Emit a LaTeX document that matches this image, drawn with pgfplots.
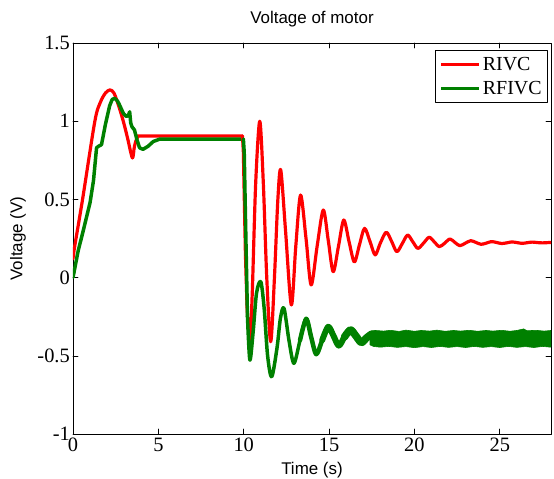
\documentclass[border=0pt]{standalone}
\usepackage{pgfplots}
\pgfplotsset{compat=1.18}
\usepackage{fontspec}
\setmainfont{Liberation Serif}
\newfontfamily\arial{Liberation Sans}
\definecolor{mgreen}{RGB}{0,128,0}
\definecolor{mred}{RGB}{255,0,0}
\begin{document}
\begin{tikzpicture}
\path[use as bounding box] (-73bp,-45bp) rectangle (481bp,434bp);
\begin{axis}[
  at={(0,0)}, anchor=south west,
  scale only axis, width=478bp, height=391bp,
  xmin=0, xmax=28, ymin=-1, ymax=1.5,
  xtick={0,5,10,15,20,25}, xticklabels={0,5,10,15,20,25},
  ytick={-1,-0.5,0,0.5,1,1.5}, yticklabels={-1,-0.5,0,0.5,1,1.5},
  tick align=inside, major tick length=5bp,
  axis line style={line width=0.8pt},
  tick style={black, line width=0.6pt},
  ticklabel style={font=\fontsize{20.5}{22}\selectfont},
  yticklabel style={inner sep=3bp},
  xticklabel style={inner sep=4bp},
  title={Voltage of motor},
  title style={font=\arial\fontsize{17}{20}\selectfont, at={(axis description cs:0.5,1.034)}, anchor=base},
  xlabel={Time (s)},
  xlabel style={font=\arial\fontsize{17}{20}\selectfont, at={(axis description cs:0.5,-0.103)}, anchor=base},
  ylabel={Voltage (V)},
  ylabel style={font=\arial\fontsize{17}{20}\selectfont, at={(axis description cs:-0.115,0.5)}, anchor=center},
  legend style={at={(axis description cs:1,1)}, anchor=north east, xshift=-3bp, yshift=-7bp,
    font=\fontsize{20}{22}\selectfont, draw=black, line width=0.8pt, inner xsep=4bp, inner ysep=5bp, row sep=5bp,
    nodes={inner sep=2bp}},
  legend cell align=left,
  legend image code/.code={\draw[#1] (0bp,0bp) -- (38bp,0bp);},
  line join=round, line cap=round,
]
% RIVC
\addplot[mred, line width=3.2pt, smooth, tension=0.5] coordinates {
(0,0.12) (0.1,0.2) (0.56,0.5) (1.28,1.0) (1.6,1.12) (1.9,1.18) (2.16,1.2) (2.4,1.18) (2.7,1.09) (2.97,0.99) (3.2,0.89) (3.48,0.765) (3.6,0.84) (3.8,0.9) (4.2,0.905) (9.93,0.905)
};
\addlegendentry{RIVC}
% RFIVC
\addplot[mgreen, line width=3.5pt] coordinates {
(0,0) (0.3,0.17) (0.6,0.3) (1.0,0.48) (1.2,0.62) (1.38,0.83) (1.5,0.84) (1.67,0.85) (1.9,0.98) (2.15,1.1) (2.3,1.14) (2.45,1.146) (2.6,1.13) (2.7,1.11) (2.95,1.05) (3.13,1.03) (3.25,1.04) (3.32,1.06) (3.38,0.99) (3.45,0.965) (3.6,0.944) (3.75,0.88) (3.9,0.83) (4.1,0.82) (4.4,0.84) (4.7,0.87) (5.07,0.885) (9.98,0.886)
};
\addlegendentry{RFIVC}
% red step
\addplot[mred, line width=3.2pt, forget plot] coordinates {
(9.93,0.905) (9.98,0.8) (10.1,0.15) (10.2,-0.2)
};
\addplot[mred, line width=3.2pt, smooth, tension=0.5, forget plot] coordinates {
(10.2,-0.2) (10.36,-0.41) (10.5,-0.1) (10.7,0.6) (10.94,1.0) (11.15,0.6) (11.35,0.0) (11.58,-0.41) (11.8,0.0) (12.0,0.5) (12.17,0.688) (12.45,0.3) (12.79,-0.175) (13.05,0.2) (13.33,0.528) (13.65,0.25) (13.95,-0.047) (14.3,0.2) (14.66,0.432) (14.95,0.24) (15.24,0.038) (15.55,0.2) (15.86,0.368) (16.17,0.23) (16.48,0.10) (16.78,0.21) (17.08,0.315) (17.4,0.23) (17.7,0.145) (18.0,0.22) (18.35,0.29) (18.67,0.23) (18.97,0.166) (19.3,0.22) (19.6,0.272) (19.9,0.23) (20.2,0.187) (20.53,0.22) (20.86,0.258) (21.15,0.23) (21.46,0.198) (21.77,0.22) (22.08,0.247) (22.37,0.225) (22.66,0.204) (22.98,0.22) (23.3,0.236) (23.6,0.225) (23.9,0.213) (24.2,0.22) (24.5,0.23) (24.8,0.225) (25.1,0.218) (25.4,0.222) (25.7,0.228) (26.0,0.224) (26.3,0.219) (26.6,0.223) (26.9,0.227) (27.2,0.224) (27.5,0.222) (28,0.225)
};
% green step
\addplot[mgreen, line width=3.5pt, forget plot] coordinates {
(9.98,0.886) (10.03,0.8) (10.1,0.4) (10.22,-0.25)
};
\addplot[mgreen, line width=3.5pt, smooth, tension=0.5, forget plot] coordinates {
(10.22,-0.25) (10.36,-0.527) (10.55,-0.35) (10.75,-0.1) (11.0,-0.026) (11.2,-0.2) (11.4,-0.5) (11.64,-0.634) (11.95,-0.45) (12.15,-0.26) (12.36,-0.196) (12.65,-0.4) (12.94,-0.548) (13.3,-0.4) (13.66,-0.26) (13.95,-0.38)
};
\addplot[mgreen, line width=4.5pt, smooth, tension=0.5, forget plot] coordinates {
(13.3,-0.4) (13.66,-0.265) (13.95,-0.38) (14.25,-0.49) (14.6,-0.4) (14.95,-0.31) (15.25,-0.37)
};
\addplot[mgreen, line width=6pt, smooth, tension=0.5, forget plot] coordinates {
(14.6,-0.4) (14.95,-0.315) (15.25,-0.37) (15.57,-0.435) (15.9,-0.38) (16.25,-0.33) (16.55,-0.37)
};
\addplot[mgreen, line width=7.5pt, smooth, tension=0.5, forget plot] coordinates {
(15.9,-0.38) (16.25,-0.335) (16.55,-0.37) (16.89,-0.415) (17.2,-0.385) (17.55,-0.36) (17.8,-0.385)
};
\addplot[mgreen, fill=mgreen, line width=0.6pt, forget plot] coordinates {
(17.4,-0.345) (17.7,-0.338) (18.2,-0.342) (18.6,-0.337) (19.1,-0.344) (19.5,-0.336) (20.0,-0.343) (20.4,-0.338) (20.9,-0.342) (21.3,-0.336) (21.8,-0.343) (22.3,-0.338) (22.7,-0.342) (23.2,-0.337) (23.7,-0.343) (24.2,-0.338) (24.6,-0.342) (25.1,-0.337) (25.6,-0.343) (26.0,-0.338) (26.4,-0.328) (26.6,-0.34) (27.1,-0.337) (27.6,-0.342) (28,-0.338)
(28,-0.445) (27.5,-0.44) (27.0,-0.447) (26.5,-0.441) (26.0,-0.446) (25.5,-0.44) (25.0,-0.447) (24.5,-0.441) (24.0,-0.446) (23.5,-0.44) (23.0,-0.447) (22.5,-0.441) (22.0,-0.446) (21.5,-0.44) (21.0,-0.447) (20.5,-0.441) (20.0,-0.448) (19.5,-0.441) (19.0,-0.446) (18.5,-0.44) (18.0,-0.445) (17.6,-0.44) (17.4,-0.43)
} -- cycle;
\end{axis}
\end{tikzpicture}
\end{document}
